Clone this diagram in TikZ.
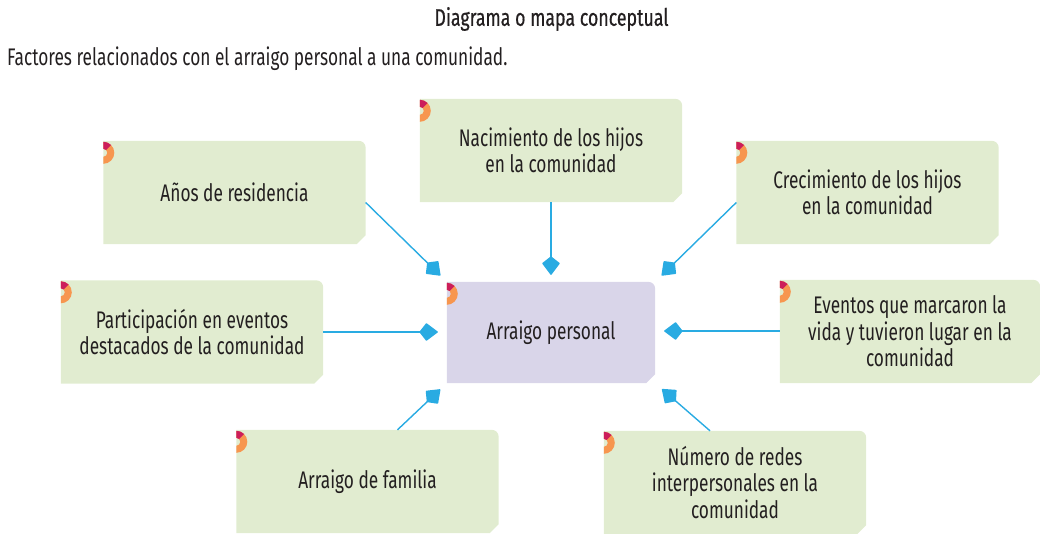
\documentclass[tikz,border=0pt]{standalone}
\usepackage{fontspec}
\setmainfont[FakeStretch=0.72]{Fira Sans}
\newfontfamily\headfont[FakeStretch=0.74,FakeBold=0.6]{Fira Sans}
\usetikzlibrary{arrows.meta,backgrounds}
\definecolor{conceptGreen}{RGB}{225,236,208}
\definecolor{conceptPurple}{RGB}{217,213,233}
\definecolor{arrowBlue}{RGB}{41,171,226}
\definecolor{tagOrange}{RGB}{247,150,79}
\definecolor{tagMagenta}{RGB}{204,30,90}
\definecolor{inkBlack}{RGB}{35,31,32}
\newcommand{\cardshape}[1]{(#1.north west) -- ([xshift=-7pt]#1.north east) arc[start angle=90,end angle=0,radius=7] -- ([yshift=9pt]#1.south east) -- ([xshift=-9pt]#1.south east) -- (#1.south west) -- cycle}
\newcommand{\cardtag}[1]{
	\coordinate (#1-tag) at ([yshift=-12pt]#1.north west);
	\fill[tagOrange] ([shift={(0,11)}]#1-tag) arc[start angle=90,end angle=-90,radius=11] -- ([shift={(0,-4)}]#1-tag) arc[start angle=-90,end angle=90,radius=4] -- cycle;
	\fill[tagMagenta] ([shift={(0,11)}]#1-tag) arc[start angle=90,end angle=45,radius=11] -- ([shift={(45:4)}]#1-tag) arc[start angle=45,end angle=90,radius=4] -- cycle;
}
\tikzset{
	concept/.style={minimum width=262, minimum height=103, inner sep=0pt, align=center, text=inkBlack, font=\fontsize{24}{26.5}\selectfont},
	heading/.style={text=inkBlack, inner sep=0pt, font=\headfont\fontsize{24}{26}\selectfont},
	lead/.style={text=inkBlack, inner sep=0pt, font=\fontsize{24}{26}\selectfont},
	link/.style={draw=arrowBlue, line width=1.4pt, ->}
}

\begin{document}
\begin{tikzpicture}[x=1pt, y=1pt, >={Kite[length=19pt,width=18pt,inset=7pt,round]}]
	\useasboundingbox (0,0) rectangle (1040,-534);

	\node[heading] (title) at (551.5,-19) {Diagrama o mapa conceptual};
	\node[lead, anchor=west] (intro) at (7,-59) {Factores relacionados con el arraigo personal a una comunidad.};

	% the concept boxes
	\node[concept] (centro) at (551,-332.5) [minimum width=208, minimum height=101] {Arraigo personal};
	\node[concept] (anos) at (234.5,-192.5) {Años de residencia};
	\node[concept] (nac) at (551,-150.5) {Nacimiento de los hijos\\en la comunidad};
	\node[concept] (cre) at (867.5,-192.5) {Crecimiento de los hijos\\en la comunidad};
	\node[concept] (par) at (192,-332) {Participación en eventos\\destacados de la comunidad};
	\node[concept] (eve) at (910,-331.5) [minimum width=260] {Eventos que marcaron la\\vida y tuvieron lugar en la\\comunidad};
	\node[concept] (fam) at (367.5,-481.5) {Arraigo de familia};
	\node[concept] (num) at (735,-482.5) {Número de redes\\interpersonales en la\\comunidad};

	\begin{pgfonlayer}{background}
		\foreach \n in {anos,nac,cre,par,eve,fam,num}
			\fill[conceptGreen] \cardshape{\n};
		\fill[conceptPurple] \cardshape{centro};
		\foreach \n in {centro,anos,nac,cre,par,eve,fam,num}
			{\cardtag{\n}}
	\end{pgfonlayer}

	\draw[link, shorten >=9pt] ([yshift=-10pt]anos.east) -- (centro.north west);
	\draw[link, shorten >=7pt] (nac.south) -- (centro.north);
	\draw[link, shorten >=9pt] ([yshift=-10pt]cre.west) -- (centro.north east);
	\draw[link, shorten >=9pt] (par.east) -- (par.east -| centro.west);
	\draw[link, shorten >=9pt] ([yshift=0.5pt]eve.west) -- ([yshift=0.5pt]eve.west -| centro.east);
	\draw[link, shorten >=9pt] ([xshift=30pt]fam.north) -- (centro.south west);
	\draw[link, shorten >=9pt] ([xshift=-25pt]num.north) -- (centro.south east);
\end{tikzpicture}
\end{document}
